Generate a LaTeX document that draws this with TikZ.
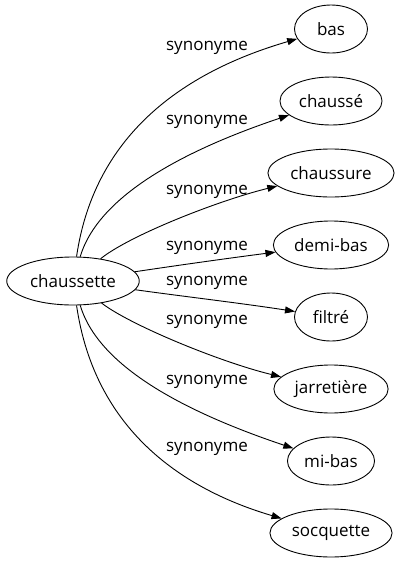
\documentclass[tikz,border=0pt]{standalone}
\usepackage{fontspec}
\setmainfont{Open Sans}
\usetikzlibrary{shapes.geometric, arrows.meta}

\begin{document}
\begin{tikzpicture}[x=1pt,y=-1pt,
		mot/.style={draw,ellipse,line width=0.9pt,minimum width=73pt,minimum height=48pt,inner xsep=4pt,font=\fontsize{17}{20}\selectfont},
		lien/.style={line width=0.9pt,-{Triangle[length=10pt,width=7pt]}},
		syn/.style={font=\fontsize{17}{20}\selectfont,inner sep=0pt}]
		\useasboundingbox (0,0) rectangle (403,563);
		% nodes
		\node[mot] (chaussette) at (73,281) {chaussette};
		\node[mot] (bas) at (331,29) {bas};
		\node[mot] (chausse) at (331,101) {chaussé};
		\node[mot] (chaussure) at (331,173) {chaussure};
		\node[mot] (demibas) at (331,245) {demi-bas};
		\node[mot] (filtre) at (331,317) {filtré};
		\node[mot] (jarretiere) at (331,389) {jarretière};
		\node[mot] (mibas) at (331,461) {mi-bas};
		\node[mot] (socquette) at (331,533) {socquette};
		% edges
		\draw[lien] (chaussette) .. controls (95,130) and (190,70) .. (bas);
		\draw[lien] (chaussette) .. controls (100,190) and (200,145) .. (chausse);
		\draw[lien] (chaussette) .. controls (130,235) and (220,200) .. (chaussure);
		\draw[lien] (chaussette) .. controls (180,265) and (230,258) .. (demibas);
		\draw[lien] (chaussette) .. controls (180,296) and (240,303) .. (filtre);
		\draw[lien] (chaussette) .. controls (130,325) and (220,362) .. (jarretiere);
		\draw[lien] (chaussette) .. controls (100,372) and (200,417) .. (mibas);
		\draw[lien] (chaussette) .. controls (95,432) and (185,490) .. (socquette);
		% labels
		\node[syn] (s1) at (207,48) {synonyme};
		\node[syn] (s2) at (207,122) {synonyme};
		\node[syn] (s3) at (207,192) {synonyme};
		\node[syn] (s4) at (207,248) {synonyme};
		\node[syn] (s5) at (207,283) {synonyme};
		\node[syn] (s6) at (207,322) {synonyme};
		\node[syn] (s7) at (207,382) {synonyme};
		\node[syn] (s8) at (207,449) {synonyme};
	\end{tikzpicture}
\end{document}
